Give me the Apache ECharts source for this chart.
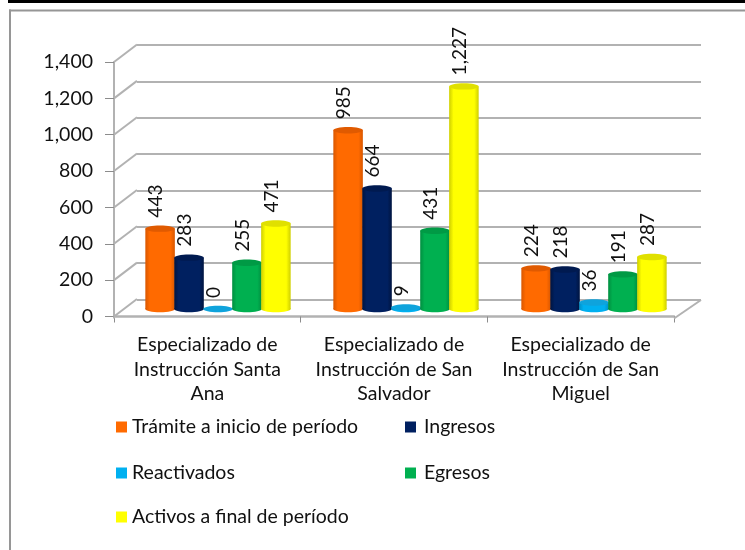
<!DOCTYPE html>
<html>
<head>
<meta charset="utf-8">
<style>html,body{margin:0;padding:0;background:#fff}#c{width:745px;height:550px}</style>
<script src="https://cdn.jsdelivr.net/npm/echarts@6/dist/echarts.min.js"></script>
</head>
<body>
<div id="c"></div>
<script>
const categories = [
  "Especializado de\nInstrucción Santa\nAna",
  "Especializado de\nInstrucción de San\nSalvador",
  "Especializado de\nInstrucción de San\nMiguel"
];
const tramite = [443, 985, 224];
const ingresos = [283, 664, 218];
const reactivados = [0, 9, 36];
const egresos = [255, 431, 191];
const activos = [471, 1227, 287];
const yTicks = [0, 200, 400, 600, 800, 1000, 1200, 1400];
const seriesNames = ["Trámite a inicio de período", "Ingresos", "Reactivados", "Egresos", "Activos a final de período"];

const FONT = "Lato";
const GRID_LINE = "#B2B2B2";
const DEPTH = [23, -17.5];
const palette = [
  {base: "#FF6A00", edge: "#D95700", cap: "#E05A00"},
  {base: "#002060", edge: "#001440", cap: "#001A50"},
  {base: "#00B0F0", edge: "#0090C8", cap: "#0FA3DC"},
  {base: "#00B050", edge: "#008F40", cap: "#009A45"},
  {base: "#FFFF00", edge: "#CFCF00", cap: "#E0E000"}
];
const values = [tramite, ingresos, reactivados, egresos, activos];
const fmt = v => Number(v).toLocaleString("en-US");

function cylinder(si) {
  return function (params, api) {
    const band = api.size([1, 0])[0];
    const w = band * 0.157;
    const base = api.coord([api.value(0), 0]);
    const top = api.coord([api.value(0), api.value(1)]);
    const cx = base[0] + (si - 2) * band * 0.154;
    const c = palette[si];
    const ry = 3.2;
    const rx = w / 2;
    const h = base[1] - top[1];
    const grad = new echarts.graphic.LinearGradient(0, 0, 1, 0, [
      {offset: 0, color: c.edge},
      {offset: 0.15, color: c.base},
      {offset: 0.85, color: c.base},
      {offset: 1, color: c.edge}
    ]);
    const kids = [];
    if (api.value(1) > 0) {
      kids.push({type: "ellipse", shape: {cx: cx, cy: base[1], rx: rx, ry: ry}, style: {fill: grad}});
      kids.push({type: "rect", shape: {x: cx - rx, y: top[1], width: w, height: h}, style: {fill: grad}});
    }
    kids.push({type: "ellipse", shape: {cx: cx, cy: top[1], rx: rx, ry: ry}, style: {fill: c.cap}});
    kids.push({
      type: "text", x: cx - 4.5, y: top[1] - 11, rotation: Math.PI / 2,
      style: {text: fmt(api.value(1)), fill: "#111", font: "19px " + FONT, align: "left", verticalAlign: "middle"}
    });
    return {type: "group", children: kids};
  };
}

const barSeries = seriesNames.map((name, si) => ({
  type: "custom",
  name: name,
  xAxisIndex: 2,
  yAxisIndex: 2,
  z: 5,
  itemStyle: {color: palette[si].base},
  encode: {x: 0, y: 1},
  data: categories.map((c, i) => [i, values[si][i]]),
  renderItem: cylinder(si),
  silent: true
}));

const depthSeries = {
  type: "custom",
  xAxisIndex: 1,
  yAxisIndex: 1,
  z: 1,
  silent: true,
  encode: {y: 0},
  data: yTicks.map(t => [t]),
  renderItem: function (params, api) {
    const cs = params.coordSys;
    const p = api.coord([0, api.value(0)]);
    const line = {stroke: GRID_LINE, lineWidth: 2};
    const kids = [{type: "line", shape: {x1: cs.x, y1: p[1], x2: cs.x + DEPTH[0], y2: p[1] + DEPTH[1]}, style: line}];
    if (api.value(0) === 0) {
      kids.push({type: "line", shape: {x1: cs.x + cs.width, y1: p[1] + 2, x2: cs.x + cs.width + DEPTH[0] + 4, y2: p[1] + DEPTH[1] + 1}, style: line});
      kids.push({type: "line", shape: {x1: cs.x, y1: p[1], x2: cs.x, y2: p[1] + 2}, style: line});
    }
    return {type: "group", children: kids};
  }
};

const legendSpots = [[116, 417], [405, 417], [116, 463], [405, 463], [116, 507]];
const legends = seriesNames.map((n, i) => ({
  data: [n],
  left: legendSpots[i][0],
  top: legendSpots[i][1],
  selectedMode: false,
  icon: "rect",
  itemWidth: 11,
  itemHeight: 11,
  padding: 0,
  textStyle: {fontFamily: FONT, fontSize: 19.5, color: "#111", padding: [0, 0, 0, i % 2 ? 3 : 0]}
}));

const hiddenY = {type: "value", min: 0, max: 1400, interval: 200, show: false};
const option = {
  animation: false,
  backgroundColor: "#fff",
  textStyle: {fontFamily: FONT},
  legend: legends,
  grid: [
    {left: 137, top: 45, width: 564, height: 254.5},
    {left: 114, top: 62, width: 560, height: 254.5},
    {left: 124, top: 55, width: 564, height: 254}
  ],
  xAxis: [
    {type: "category", gridIndex: 0, data: categories, show: false},
    {
      type: "category", gridIndex: 1, data: categories, offset: 2,
      axisLine: {show: true, lineStyle: {color: GRID_LINE, width: 2.5}},
      axisTick: {show: true, length: 6, lineStyle: {color: "#8c8c8c", width: 1}},
      splitLine: {show: false},
      axisLabel: {color: "#111", fontFamily: FONT, fontSize: 19.5, lineHeight: 24.5, margin: 14, interval: 0}
    },
    {type: "category", gridIndex: 2, data: categories, show: false}
  ],
  yAxis: [
    Object.assign({gridIndex: 0}, hiddenY, {
      show: true,
      axisLine: {show: false}, axisTick: {show: false}, axisLabel: {show: false},
      splitLine: {show: true, lineStyle: {color: GRID_LINE, width: 2}}
    }),
    {
      type: "value", gridIndex: 1, min: 0, max: 1400, interval: 200,
      axisLine: {show: true, lineStyle: {color: GRID_LINE, width: 2}},
      axisTick: {show: true, length: 9, lineStyle: {color: "#8c8c8c", width: 1}},
      splitLine: {show: false},
      axisLabel: {color: "#111", fontFamily: FONT, fontSize: 19.5, margin: 21, formatter: v => fmt(v)}
    },
    Object.assign({gridIndex: 2}, hiddenY)
  ],
  graphic: [
    {type: "rect", shape: {x: 8, y: 0, width: 737, height: 3}, style: {fill: "#000"}, z: 10},
    {type: "rect", shape: {x: 421, y: 0, width: 2, height: 3}, style: {fill: "#000"}, z: 10},
    {type: "rect", shape: {x: 621, y: 0, width: 2, height: 3}, style: {fill: "#000"}, z: 10},
    {type: "rect", shape: {x: 9, y: 9.5, width: 736, height: 2}, style: {fill: "#969696"}, z: 10},
    {type: "rect", shape: {x: 9, y: 9.5, width: 2, height: 540.5}, style: {fill: "#969696"}, z: 10}
  ],
  series: [depthSeries].concat(barSeries)
};
const chart = echarts.init(document.getElementById("c"), null, {renderer: "canvas"});
chart.setOption(option);
</script>
</body>
</html>
